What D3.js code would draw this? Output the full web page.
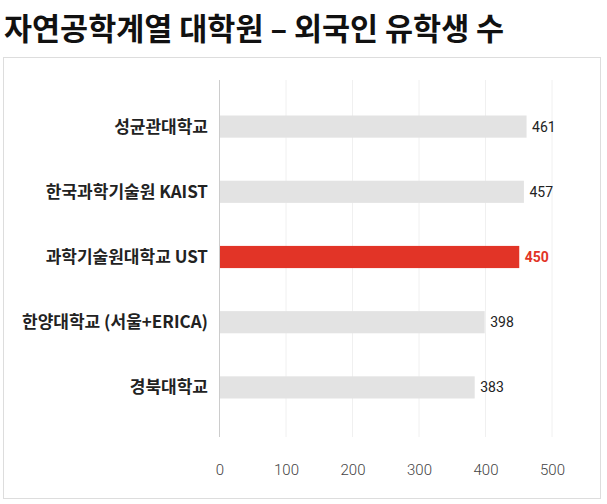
<!DOCTYPE html><html><head><meta charset="utf-8"><script src="https://cdn.jsdelivr.net/npm/d3@7"></script>
<style>body{margin:0;background:#fff}text{font-family:"Noto Sans CJK KR","Noto Sans",sans-serif}</style></head><body><svg id="c" width="607" height="504"></svg>
<script>
const categories=["성균관대학교","한국과학기술원 KAIST","과학기술원대학교 UST","한양대학교 (서울+ERICA)","경북대학교"];
const values=[461,457,450,398,383];
const highlight=[false,false,true,false,false];
const ticks=[0,100,200,300,400,500];
const svg=d3.select("#c");
svg.append("text").attr("x",4).attr("y",40).attr("font-size",30.5).attr("font-weight",700).attr("fill","#111").text("자연공학계열 대학원 – 외국인 유학생 수");
svg.append("rect").attr("x",3.5).attr("y",57.5).attr("width",597).attr("height",441).attr("fill","none").attr("stroke","#ddd");
const x=d3.scaleLinear().domain([0,500]).range([219.5,552]);
const y=d3.scaleBand().domain(categories).range([94,420]).paddingInner(0.66).paddingOuter(0.33);
svg.append("g").selectAll("line").data(ticks).join("line").attr("x1",d=>x(d)).attr("x2",d=>x(d)).attr("y1",80).attr("y2",437).attr("stroke",(d,i)=>i?"#f0f0f0":"#ccc");
const ax=svg.append("g").attr("transform","translate(0,470)").call(d3.axisBottom(x).tickValues(ticks).tickSize(0).tickPadding(0));
ax.select(".domain").remove();
ax.selectAll("text").attr("font-size",15).attr("fill","#444").attr("dy","0.35em").style("font-family","Roboto,sans-serif").style("font-weight",300);
const g=svg.append("g");
g.selectAll("rect").data(values).join("rect").attr("x",x(0)+0.5).attr("y",(d,i)=>y(categories[i])).attr("height",y.bandwidth()).attr("width",d=>x(d)-x(0)).attr("fill",(d,i)=>highlight[i]?"#e23427":"#e3e3e3");
g.selectAll(".v").data(values).join("text").attr("x",d=>x(d)+6).attr("y",(d,i)=>y(categories[i])+y.bandwidth()/2).attr("dy","0.35em").attr("font-size",14).attr("fill",(d,i)=>highlight[i]?"#e23427":"#222").attr("font-weight",(d,i)=>highlight[i]?700:400).style("font-family","Roboto,sans-serif").text(d=>d);
g.selectAll(".c").data(categories).join("text").attr("x",208).attr("y",d=>y(d)+y.bandwidth()/2).attr("dy","0.35em").attr("text-anchor","end").attr("font-size",17).attr("font-weight",700).attr("fill","#222").text(d=>d);
</script></body></html>
